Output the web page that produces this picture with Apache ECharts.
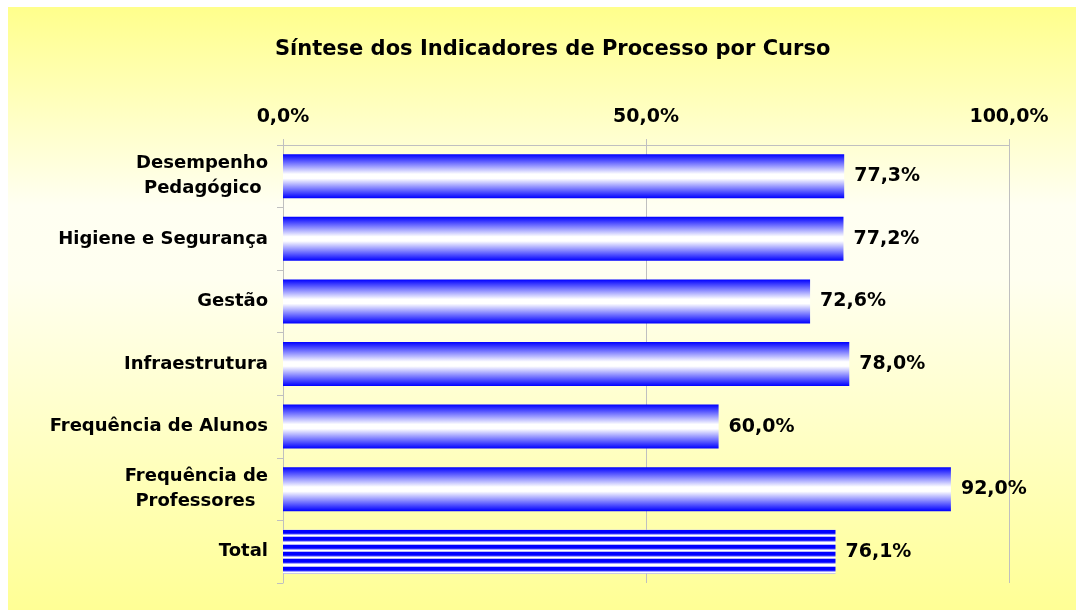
<!DOCTYPE html>
<html>
<head>
<meta charset="utf-8">
<script src="https://cdn.jsdelivr.net/npm/echarts@6/dist/echarts.min.js"></script>
<style>
html,body{margin:0;padding:0;background:#fff;}
#chart{width:1076px;height:610px;}
</style>
</head>
<body>
<div id="chart"></div>
<script>
var title = 'Síntese dos Indicadores de Processo por Curso';
var categories = ['Desempenho\nPedagógico ', 'Higiene e Segurança', 'Gestão', 'Infraestrutura', 'Frequência de Alunos', 'Frequência de\nProfessores  ', 'Total'];
var values = [77.3, 77.2, 72.6, 78.0, 60.0, 92.0, 76.1];
var axisTicks = [0, 50, 100];

var FONT = 'DejaVu Sans';
var chart = echarts.init(document.getElementById('chart'));

var barGrad = new echarts.graphic.LinearGradient(0, 0, 0, 1, [
  {offset: 0, color: '#0000ff'},
  {offset: 0.45, color: '#ffffff'},
  {offset: 0.55, color: '#ffffff'},
  {offset: 1, color: '#0000ff'}
]);

var BAR_W = 44;
var stripe = document.createElement('canvas');
stripe.width = 8; stripe.height = BAR_W;
(function(){
  var c = stripe.getContext('2d');
  c.fillStyle = '#ffffff'; c.fillRect(0,0,8,BAR_W);
  var period = BAR_W / 6;
  for (var i = 0; i < 6; i++) {
    var y = Math.round(i * period);
    c.fillStyle = '#9a9aff'; c.fillRect(0, y, 8, 1);
    c.fillStyle = '#0000ff'; c.fillRect(0, y, 8, 4);
    c.fillStyle = '#8080ff'; c.fillRect(0, y + 4, 8, 1);
  }
})();
var stripePattern = {image: stripe, repeat: 'repeat', x: 0, y: 0};

function fmt(v){ return v.toFixed(1).replace('.', ',') + '%'; }

function buildData(){
  return values.map(function(v, i){
    var d = {value: v};
    if (i === values.length - 1) d.itemStyle = {color: stripePattern};
    return d;
  });
}

var option = {
  backgroundColor: 'transparent',
  animation: false,
  graphic: [{
    type: 'rect', left: 8, top: 7, z: -10, silent: true,
    shape: {width: 1068, height: 603},
    style: {fill: new echarts.graphic.LinearGradient(0, 0, 0, 1, [
      {offset: 0, color: '#ffff8c'},
      {offset: 0.33, color: '#fffff2'},
      {offset: 0.45, color: '#fffff0'},
      {offset: 1, color: '#ffff95'}
    ])}
  }],
  title: {
    text: title, left: 270, top: 34,
    textStyle: {fontFamily: FONT, fontWeight: 'bold', fontSize: 21, color: '#000'}
  },
  grid: {left: 283, right: 67, top: 145, bottom: 27, containLabel: false},
  xAxis: {
    type: 'value', position: 'top', min: 0, max: 100, interval: 50,
    axisLine: {show: true, lineStyle: {color: '#c0c0c0', width: 1}},
    axisTick: {show: true, length: 6, lineStyle: {color: '#c0c0c0'}},
    splitLine: {show: true, lineStyle: {color: '#c0c0c0', width: 1}},
    axisLabel: {
      margin: 18, color: '#000', fontFamily: FONT, fontWeight: 'bold', fontSize: 19,
      formatter: function(v){ return fmt(v); }
    }
  },
  yAxis: {
    type: 'category', inverse: true, data: categories,
    axisLine: {show: true, lineStyle: {color: '#c0c0c0', width: 1}},
    axisTick: {show: true, length: 6, lineStyle: {color: '#c0c0c0'}},
    axisLabel: {
      margin: 15, color: '#000', fontFamily: FONT, fontWeight: 'bold', fontSize: 18,
      lineHeight: 25, align: 'right'
    }
  },
  series: [{
    type: 'bar', barWidth: BAR_W,
    data: buildData(),
    itemStyle: {color: barGrad},
    label: {
      show: true, position: 'right', distance: 10,
      color: '#000', fontFamily: FONT, fontWeight: 'bold', fontSize: 19,
      formatter: function(p){ return fmt(p.value); }
    }
  }]
};
chart.setOption(option);
var c = chart.convertToPixel({yAxisIndex: 0}, values.length - 1);
stripePattern.y = c - BAR_W / 2;
chart.setOption({series: [{data: buildData()}]});
</script>
</body>
</html>
